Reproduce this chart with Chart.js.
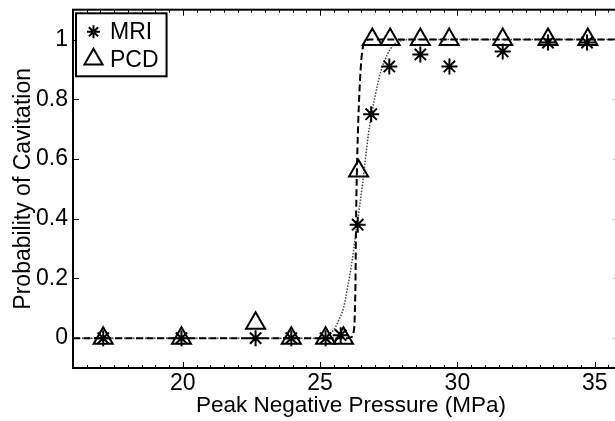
<!DOCTYPE html>
<html>
<head>
<meta charset="utf-8">
<title>Probability of Cavitation</title>
<script src="https://cdn.jsdelivr.net/npm/chart.js@4.4.1/dist/chart.umd.min.js"></script>
<style>
  html, body { margin: 0; padding: 0; background: #fff; overflow: hidden; }
  /* the figure's axes run a little past the right edge of the picture */
  #wrap { width: 615px; height: 421px; overflow: hidden; }
</style>
</head>
<body>
<div id="wrap"><canvas id="myChart" width="629" height="421"></canvas></div>
<script>
// measured points: peak negative pressure (MPa) and probability
const mriPressure = [17.1, 19.95, 22.65, 23.95, 25.2, 25.75, 26.37, 26.86, 27.52, 28.65, 29.71, 31.65, 33.3, 34.72];
const mriProb = [0, 0, 0, 0, 0, 0.01, 0.38, 0.75, 0.91, 0.95, 0.91, 0.96, 0.99, 0.99];

const pcdPressure = [17.1, 19.95, 22.65, 23.95, 25.2, 25.85, 26.4, 26.9, 27.55, 28.65, 29.7, 31.65, 33.3, 34.75];
const pcdProb = [0, 0, 0.05, 0, 0, 0, 0.56, 1, 1, 1, 1, 1, 1, 1];

// fitted curves
const mriFitPressure = [16, 25.0, 25.2, 25.4, 25.55, 25.7, 25.85, 26.0, 26.15, 26.3, 26.45, 26.55, 26.65, 26.8, 26.98, 27.2, 27.45, 27.65, 27.9, 28.3, 36.25];
const mriFitProb = [0, 0, 0.006, 0.018, 0.035, 0.065, 0.1, 0.17, 0.25, 0.35, 0.45, 0.52, 0.6, 0.71, 0.8, 0.89, 0.95, 0.98, 0.995, 1, 1];

const pcdFitPressure = [16, 26.0, 26.13, 26.22, 26.26, 26.29, 26.31, 26.34, 26.38, 26.44, 26.5, 26.56, 26.65, 26.8, 36.25];
const pcdFitProb = [0, 0, 0.003, 0.02, 0.07, 0.2, 0.4, 0.56, 0.7, 0.84, 0.93, 0.975, 0.995, 1, 1];

const xTicks = [20, 25, 30, 35];
const yTicks = [0, 0.2, 0.4, 0.6, 0.8, 1];

const xRange = [16, 36.25];
const yRange = [-0.1, 1.1];

const VIEW_W = 615;

const FONT = "'Liberation Sans', Arial, Helvetica, sans-serif";
Chart.defaults.font.family = FONT;
Chart.defaults.color = "#000";

const toPoints = function (xs, ys) {
  return xs.map((v, i) => ({ x: v, y: ys[i] }));
};

const drawMarker = function (ctx, style, radius, x, y) {
  if (Chart.helpers && Chart.helpers.drawPoint) {
    Chart.helpers.drawPoint(ctx, { pointStyle: style, radius: radius, rotation: 0, borderWidth: ctx.lineWidth }, x, y);
    return;
  }
  ctx.beginPath();
  if (style === "triangle") {
    for (let k = 0; k < 3; k++) {
      const a = (k * 2 * Math.PI) / 3;
      const px = x + Math.sin(a) * radius;
      const py = y - Math.cos(a) * radius;
      if (k === 0) ctx.moveTo(px, py);
      else ctx.lineTo(px, py);
    }
    ctx.closePath();
  } else {
    const d = radius * Math.SQRT1_2;
    ctx.moveTo(x - radius, y); ctx.lineTo(x + radius, y);
    ctx.moveTo(x, y - radius); ctx.lineTo(x, y + radius);
    ctx.moveTo(x - d, y - d); ctx.lineTo(x + d, y + d);
    ctx.moveTo(x - d, y + d); ctx.lineTo(x + d, y - d);
  }
  ctx.stroke();
};

// box, inward ticks and the boxed legend, like a matlab figure
const matlabAxes = {
  id: "matlabAxes",
  afterDraw(chart) {
    const { ctx, chartArea: a } = chart;
    const xs = chart.scales.x;
    const ys = chart.scales.y;
    ctx.save();
    ctx.strokeStyle = "#000";
    ctx.lineWidth = 1;

    ctx.beginPath();
    for (let v = Math.ceil(xs.min * 2) / 2; v <= xs.max; v += 0.5) {
      const px = Math.round(xs.getPixelForValue(v)) + 0.5;
      const len = xTicks.includes(v) ? 6 : 3;
      ctx.moveTo(px, a.bottom); ctx.lineTo(px, a.bottom - len);
      ctx.moveTo(px, a.top); ctx.lineTo(px, a.top + len);
    }
    yTicks.forEach((v) => {
      const py = Math.round(ys.getPixelForValue(v)) + 0.5;
      ctx.moveTo(a.left, py); ctx.lineTo(a.left + 6, py);
      ctx.moveTo(a.right, py); ctx.lineTo(a.right - 6, py);
    });
    ctx.stroke();

    // faint stubs of the right axis ticks at the picture edge
    ctx.strokeStyle = "#bbb";
    ctx.beginPath();
    yTicks.forEach((v) => {
      const py = Math.round(ys.getPixelForValue(v)) + 0.5;
      ctx.moveTo(VIEW_W, py); ctx.lineTo(VIEW_W - 2, py);
    });
    ctx.stroke();

    ctx.strokeStyle = "#000";
    ctx.lineWidth = 2;
    ctx.lineJoin = "miter";
    ctx.strokeRect(a.left, a.top, a.right - a.left, a.bottom - a.top);

    // legend
    const items = chart.data.datasets.filter((d) => d.inLegend);
    ctx.font = "23px " + FONT;
    ctx.textBaseline = "middle";
    ctx.textAlign = "left";
    let textW = 0;
    items.forEach((d) => { textW = Math.max(textW, ctx.measureText(d.label).width); });
    const bx = a.left + 3;
    const by = a.top + 3.6;
    const rowH = 27.5;
    const bw = 34 + textW + 8;
    const bh = 18.5 + rowH * (items.length - 1) + 17;
    ctx.fillStyle = "#fff";
    ctx.fillRect(bx, by, bw, bh);
    ctx.strokeRect(bx, by, bw, bh);
    items.forEach((d, i) => {
      const cy = by + 18.5 + rowH * i;
      ctx.lineWidth = 2;
      ctx.strokeStyle = "#000";
      ctx.fillStyle = "rgba(0,0,0,0)";
      drawMarker(ctx, d.pointStyle, d.legendRadius, bx + 17.5, cy);
      ctx.fillStyle = "#000";
      ctx.fillText(d.label, bx + 34, cy + 1);
    });
    ctx.restore();
  },
};

const tickFont = { size: 23 };

new Chart(document.getElementById("myChart"), {
  type: "scatter",
  data: {
    datasets: [
      {
        label: "MRI",
        inLegend: true,
        data: toPoints(mriPressure, mriProb),
        pointStyle: "star",
        pointRadius: 8,
        pointBorderWidth: 2,
        borderColor: "#000",
        backgroundColor: "rgba(0,0,0,0)",
        legendRadius: 6.5,
        showLine: false,
      },
      {
        label: "PCD",
        inLegend: true,
        data: toPoints(pcdPressure, pcdProb),
        pointStyle: "triangle",
        pointRadius: 11,
        pointBorderWidth: 2,
        borderColor: "#000",
        backgroundColor: "rgba(0,0,0,0)",
        legendRadius: 10.5,
        showLine: false,
      },
      {
        label: "PCD fit",
        data: toPoints(pcdFitPressure, pcdFitProb),
        showLine: true,
        pointRadius: 0,
        borderColor: "#000",
        borderWidth: 2,
        borderDash: [7, 3.5],
        cubicInterpolationMode: "monotone",
      },
      {
        label: "MRI fit",
        data: toPoints(mriFitPressure, mriFitProb),
        showLine: true,
        pointRadius: 0,
        borderColor: "#444",
        borderWidth: 1.5,
        borderDash: [1.5, 1.5],
        cubicInterpolationMode: "monotone",
      },
    ],
  },
  options: {
    responsive: false,
    animation: false,
    devicePixelRatio: 1,
    layout: { autoPadding: false, padding: { top: 9.7, right: 0, left: 0, bottom: 0 } },
    plugins: {
      legend: { display: false },
      tooltip: { enabled: false },
    },
    scales: {
      x: {
        type: "linear",
        min: xRange[0],
        max: xRange[1],
        grid: { display: false, drawTicks: false },
        border: { display: false },
        afterBuildTicks: (s) => { s.ticks = xTicks.map((v) => ({ value: v })); },
        afterFit: (s) => { s.height = 53; s.paddingLeft = 0; s.paddingRight = 0; },
        ticks: { font: tickFont, color: "#000", padding: 2, maxRotation: 0, autoSkip: false },
        title: {
          display: true,
          text: "Peak Negative Pressure (MPa)",
          font: { size: 22.5 },
          color: "#000",
          padding: { top: 0, bottom: 2 },
        },
      },
      y: {
        type: "linear",
        min: yRange[0],
        max: yRange[1],
        grid: { display: false, drawTicks: false },
        border: { display: false },
        afterBuildTicks: (s) => { s.ticks = yTicks.map((v) => ({ value: v })); },
        afterFit: (s) => { s.width = 73; s.paddingTop = 0; s.paddingBottom = 0; },
        ticks: { font: tickFont, color: "#000", padding: 5, callback: (v) => String(v) },
        title: {
          display: true,
          text: "Probability of Cavitation",
          font: { size: 23 },
          color: "#000",
          padding: { top: 10, bottom: 0 },
        },
      },
    },
  },
  plugins: [matlabAxes],
});
</script>
</body>
</html>
